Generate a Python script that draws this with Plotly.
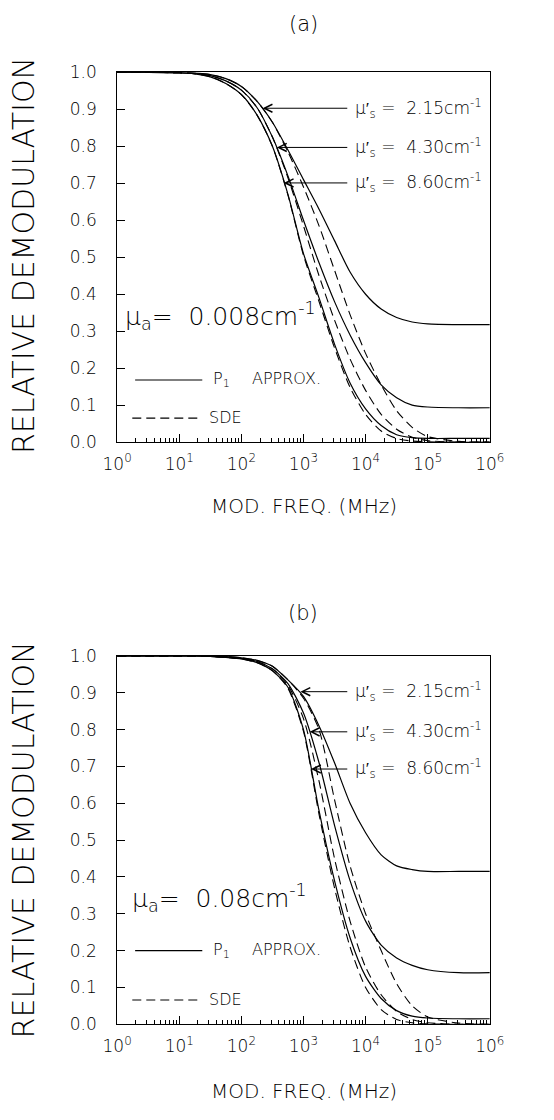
import math
import plotly.graph_objects as go

# ---------------- data ----------------
freq_mhz = [1, 3.16, 10, 17.8, 31.6, 56.2, 100, 178, 316, 562, 1000, 1780, 3160, 5620,
            10000, 17800, 31600, 56200, 100000, 316000, 1000000]

# panel (a)  mu_a = 0.008 cm-1
a_p1_215 = [1.0, 1.0, 0.999, 0.998, 0.994, 0.983, 0.962, 0.922, 0.865, 0.79, 0.71, 0.63,
            0.545, 0.46, 0.40, 0.36, 0.337, 0.325, 0.32, 0.318, 0.318]
a_sde_215 = [1.0, 1.0, 0.999, 0.998, 0.994, 0.983, 0.962, 0.922, 0.865, 0.785, 0.69, 0.585,
             0.465, 0.345, 0.24, 0.155, 0.085, 0.04, 0.015, 0.002, 0.0]
a_p1_430 = [1.0, 1.0, 0.999, 0.997, 0.991, 0.977, 0.952, 0.905, 0.825, 0.72, 0.60, 0.485,
            0.38, 0.29, 0.215, 0.155, 0.12, 0.10, 0.095, 0.093, 0.093]
a_sde_430 = [1.0, 1.0, 0.999, 0.997, 0.991, 0.977, 0.952, 0.905, 0.825, 0.715, 0.585, 0.45,
             0.33, 0.225, 0.14, 0.075, 0.035, 0.013, 0.004, 0.0, 0.0]
a_p1_860 = [1.0, 1.0, 0.999, 0.996, 0.988, 0.97, 0.94, 0.885, 0.80, 0.67, 0.51, 0.39,
            0.265, 0.16, 0.09, 0.045, 0.02, 0.012, 0.01, 0.01, 0.01]
a_sde_860 = [1.0, 1.0, 0.999, 0.996, 0.988, 0.97, 0.94, 0.885, 0.80, 0.668, 0.505, 0.38,
             0.255, 0.148, 0.075, 0.03, 0.01, 0.003, 0.001, 0.0, 0.0]

# panel (b)  mu_a = 0.08 cm-1
b_p1_215 = [1.0, 1.0, 1.0, 1.0, 0.999, 0.998, 0.995, 0.988, 0.972, 0.935, 0.89, 0.81,
            0.71, 0.60, 0.52, 0.46, 0.43, 0.42, 0.415, 0.415, 0.415]
b_sde_215 = [1.0, 1.0, 1.0, 1.0, 0.999, 0.998, 0.995, 0.988, 0.972, 0.935, 0.885, 0.80,
             0.61, 0.43, 0.30, 0.20, 0.11, 0.05, 0.02, 0.003, 0.0]
b_p1_430 = [1.0, 1.0, 1.0, 1.0, 0.999, 0.997, 0.993, 0.985, 0.965, 0.925, 0.845, 0.71,
            0.54, 0.39, 0.28, 0.215, 0.18, 0.16, 0.148, 0.14, 0.14]
b_sde_430 = [1.0, 1.0, 1.0, 1.0, 0.999, 0.997, 0.993, 0.985, 0.965, 0.92, 0.83, 0.66,
             0.45, 0.28, 0.155, 0.08, 0.035, 0.013, 0.004, 0.0, 0.0]
b_p1_860 = [1.0, 1.0, 1.0, 1.0, 0.999, 0.996, 0.992, 0.982, 0.96, 0.915, 0.80, 0.58,
            0.39, 0.235, 0.13, 0.07, 0.037, 0.022, 0.017, 0.015, 0.015]
b_sde_860 = [1.0, 1.0, 1.0, 1.0, 0.999, 0.996, 0.992, 0.982, 0.96, 0.912, 0.795, 0.57,
             0.37, 0.21, 0.10, 0.04, 0.013, 0.004, 0.001, 0.0, 0.0]

mus_labels = ["2.15", "4.30", "8.60"]
# arrow tips (frequency MHz, demodulation) for each label
a_tip_freq = [219, 372, 479]
a_tip_val = [0.903, 0.797, 0.701]
b_tip_freq = [891, 1259, 1318]
b_tip_val = [0.903, 0.794, 0.693]

x_tickvals = [1, 10, 100, 1000, 10000, 100000, 1000000]
x_ticktext = ["10<sup>0</sup>", "10<sup>1</sup>", "10<sup>2</sup>", "10<sup>3</sup>",
              "10<sup>4</sup>", "10<sup>5</sup>", "10<sup>6</sup>"]
minor_vals = [m * d for d in x_tickvals[:-1] for m in range(2, 10)]

# ---------------- figure ----------------
W, H = 554, 1120
FONT = "DejaVu Sans"
TXT = "black"
fig = go.Figure()


def px(xp):
    return xp / W


def py(yp):
    return 1 - yp / H


panels = [
    ("x", "y", [a_p1_215, a_p1_430, a_p1_860], [a_sde_215, a_sde_430, a_sde_860]),
    ("x2", "y2", [b_p1_215, b_p1_430, b_p1_860], [b_sde_215, b_sde_430, b_sde_860]),
]
for xa, ya, p1s, sdes in panels:
    for ys in sdes:
        fig.add_trace(go.Scatter(x=freq_mhz, y=ys, xaxis=xa, yaxis=ya, mode="lines",
                                 line=dict(color="black", width=1.1, dash="9px,5px",
                                           shape="spline", smoothing=0.7),
                                 showlegend=False, hoverinfo="skip"))
    for ys in p1s:
        fig.add_trace(go.Scatter(x=freq_mhz, y=ys, xaxis=xa, yaxis=ya, mode="lines",
                                 line=dict(color="black", width=1.2,
                                           shape="spline", smoothing=0.7),
                                 showlegend=False, hoverinfo="skip"))

xdom = [108 / W, 502 / W]
ydom_a = [py(440), py(63.5)]
ydom_b = [py(1032.7), py(657.7)]

xcommon = dict(type="log", range=[0, 6], showline=True, linecolor="black", linewidth=1,
               mirror=True, ticks="inside", ticklen=8, tickcolor="black",
               tickvals=x_tickvals, ticktext=x_ticktext, showgrid=False, zeroline=False,
               tickfont=dict(family=FONT, size=17, color=TXT, weight=300),
               ticklabelstandoff=6,
               minor=dict(ticks="inside", ticklen=4, tickcolor="black", tickvals=minor_vals,
                          showgrid=False))
ycommon = dict(range=[0, 1], dtick=0.1, tick0=0, tickformat=".1f", showline=True,
               linecolor="black", linewidth=1, mirror=True, ticks="inside", ticklen=8,
               tickcolor="black", showgrid=False, zeroline=False,
               tickfont=dict(family=FONT, size=17, color=TXT, weight=300),
               ticklabelstandoff=16)

fig.update_layout(
    width=W, height=H, margin=dict(l=0, r=0, t=0, b=0),
    paper_bgcolor="white", plot_bgcolor="white",
    xaxis=dict(domain=xdom, anchor="y", **xcommon),
    yaxis=dict(domain=ydom_a, anchor="x", **ycommon),
    xaxis2=dict(domain=xdom, anchor="y2", **xcommon),
    yaxis2=dict(domain=ydom_b, anchor="x2", **ycommon),
)

ann = []
shapes = []


def text(xp, yp, s, size, xanchor="center", angle=0):
    ann.append(dict(x=px(xp), y=py(yp), xref="paper", yref="paper", text=s,
                    showarrow=False, xanchor=xanchor, yanchor="middle", textangle=angle,
                    font=dict(family=FONT, size=size, color=TXT, weight=300)))


# titles
text(305, 14, "(a)", 21)
text(305, 614, "(b)", 21)
text(9, 250, "RELATIVE DEMODULATION", 30, angle=-90)
text(9, 845, "RELATIVE DEMODULATION", 30, angle=-90)
text(306, 505, "MOD. FREQ. (MHz)", 20)
text(306, 1101, "MOD. FREQ. (MHz)", 20)

# mu_a labels
text(114, 312, "μ<sub>a</sub>=  0.008cm<sup>-1</sup>", 25, xanchor="left")
text(122, 904, "μ<sub>a</sub>=  0.08cm<sup>-1</sup>", 25, xanchor="left")

# legends
for y_p1, y_sde in [(376.7, 415.5), (957.7, 1008)]:
    shapes.append(dict(type="line", xref="paper", yref="paper", x0=px(127), x1=px(198),
                       y0=py(y_p1), y1=py(y_p1), line=dict(color="black", width=1.1)))
    shapes.append(dict(type="line", xref="paper", yref="paper", x0=px(124), x1=px(195),
                       y0=py(y_sde), y1=py(y_sde),
                       line=dict(color="black", width=1.1, dash="9px,5px")))
    text(207, y_p1, "P<sub>1</sub>", 16, xanchor="left")
    text(248, y_p1 - 1, "APPROX.", 16, xanchor="left")
    text(203, y_sde - 1, "SDE", 16, xanchor="left")

# mu_s' labels with arrows
label_rows = [([100, 140, 176], "x", "y", a_tip_freq, a_tip_val),
              ([694, 735, 772.7], "x2", "y2", b_tip_freq, b_tip_val)]
tail_logf = (353 - 108) / 65.7
for rows, xr, yr, tf, tv in label_rows:
    for i, lab in enumerate(mus_labels):
        text(357, rows[i], "μ′<sub>s</sub> =  " + lab + "cm<sup>-1</sup>", 17, xanchor="left")
        ann.append(dict(x=math.log10(tf[i]), y=tv[i], xref=xr, yref=yr,
                        ax=tail_logf, ay=tv[i], axref=xr, ayref=yr, text="",
                        showarrow=True, arrowhead=5, arrowsize=1.6, arrowwidth=1,
                        arrowcolor="black", standoff=0, startstandoff=0))

fig.update_layout(annotations=ann, shapes=shapes)

fig.write_html("out.html", config={"displayModeBar": False},
               post_script="document.body.style.margin='0px';")
